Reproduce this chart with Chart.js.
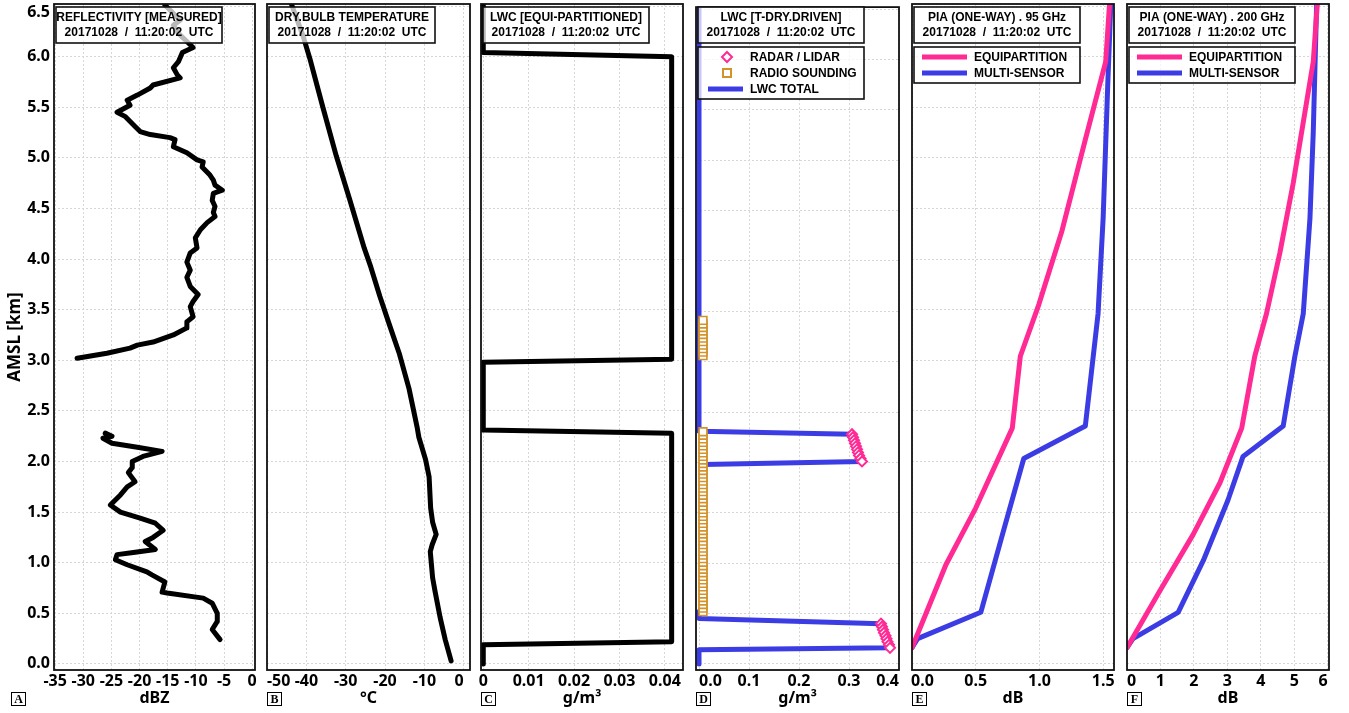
<!DOCTYPE html>
<html>
<head>
<meta charset="utf-8">
<script src="https://cdn.jsdelivr.net/npm/chart.js@4.4.0/dist/chart.umd.min.js"></script>
<style>
  html, body { margin: 0; padding: 0; background: #fff; }
  #wrap { position: relative; width: 1349px; height: 713px; overflow: hidden; }
  canvas { position: absolute; left: 0; top: 0; }
</style>
</head>
<body>
<div id="wrap">
  <canvas id="pA" width="1349" height="713"></canvas>
  <canvas id="pB" width="1349" height="713"></canvas>
  <canvas id="pC" width="1349" height="713"></canvas>
  <canvas id="pD" width="1349" height="713"></canvas>
  <canvas id="pE" width="1349" height="713"></canvas>
  <canvas id="pF" width="1349" height="713"></canvas>
</div>
<script>
// altitude axis (shared)
const yTickValues = [0, 0.5, 1, 1.5, 2, 2.5, 3, 3.5, 4, 4.5, 5, 5.5, 6, 6.5];
const yTickLabels = ['0.0','0.5','1.0','1.5','2.0','2.5','3.0','3.5','4.0','4.5','5.0','5.5','6.0','6.5'];

// A - reflectivity
const reflTicks = [-35, -30, -25, -20, -15, -10, -5, 0];
const reflTickLabels = ['-35','-30','-25','-20','-15','-10','-5','0'];
const reflAltUpper = [6.51,6.36,6.31,6.23,6.15,6.09,6.04,5.95,5.89,5.82,5.79,5.72,5.69,5.62,5.57,5.52,5.45,5.41,5.31,5.26,5.23,5.20,5.18,5.11,5.05,4.98,4.96,4.91,4.83,4.78,4.73,4.68,4.65,4.58,4.52,4.46,4.42,4.36,4.29,4.21,4.11,4.06,3.97,3.89,3.82,3.73,3.65,3.58,3.53,3.43,3.38,3.32,3.25,3.18,3.15,3.12,3.07,3.02];
const reflDbzUpper = [-15.5,-12.8,-14.0,-13.1,-11.6,-10.5,-12.4,-13.1,-14.0,-13.3,-12.8,-17.6,-18.1,-20.4,-22.2,-21.7,-24.0,-22.6,-20.8,-19.9,-18.1,-14.6,-13.7,-14.0,-11.6,-9.8,-8.7,-8.9,-7.5,-6.9,-6.6,-5.3,-6.9,-7.1,-6.6,-6.9,-6.6,-8.0,-9.2,-10.1,-9.8,-11.0,-11.6,-11.0,-11.6,-11.0,-9.6,-10.5,-11.0,-10.5,-11.6,-11.6,-14.0,-17.6,-20.4,-21.7,-25.8,-31.1];
const reflAltLower = [2.28,2.25,2.23,2.18,2.14,2.10,2.05,2.00,1.94,1.89,1.80,1.75,1.67,1.57,1.50,1.44,1.39,1.32,1.25,1.21,1.13,1.10,1.08,1.03,0.98,0.91,0.88,0.81,0.71,0.70,0.65,0.60,0.50,0.42,0.34,0.24];
const reflDbzLower = [-26.1,-24.9,-26.5,-24.9,-20.4,-16.0,-19.4,-21.3,-21.3,-22.0,-20.8,-22.2,-23.4,-25.2,-23.4,-19.9,-17.2,-15.8,-17.6,-19.0,-17.2,-21.1,-24.0,-24.3,-22.2,-18.7,-17.8,-15.5,-16.0,-15.1,-8.7,-7.1,-6.2,-6.2,-7.1,-5.7];

// B - dry bulb temperature
const tempTicks = [-50, -40, -30, -20, -10, 0];
const tempTickLabels = ['-50','-40','-30','-20','-10','0'];
const tempAlt = [6.52,6.20,5.98,5.50,5.02,4.59,4.11,3.92,3.63,3.33,3.07,2.72,2.33,2.24,2.02,1.85,1.54,1.40,1.28,1.18,1.11,0.98,0.85,0.72,0.46,0.24,0.03];
const tempC = [-43.8,-40.8,-39.1,-35.8,-32.4,-29.0,-25.3,-23.6,-21.3,-18.7,-16.4,-13.9,-11.8,-11.4,-9.7,-8.8,-8.4,-7.9,-7.0,-8.0,-8.5,-8.2,-7.9,-7.3,-6.0,-4.7,-3.2];

// C - LWC equi-partitioned
const lwcTicks = [0, 0.01, 0.02, 0.03, 0.04];
const lwcTickLabels = ['0','0.01','0.02','0.03','0.04'];
const lwcEqAlt = [0.00,0.19,0.22,2.28,2.31,2.98,3.01,6.00,6.04,6.52];
const lwcEq = [0,0,0.0415,0.0415,0,0,0.0415,0.0415,0,0];

// D - LWC T-dry driven
const lwcdTicks = [0, 0.1, 0.2, 0.3, 0.4];
const lwcdTickLabels = ['0.0','0.1','0.2','0.3','0.4'];
const radarAlt = [2.28,2.25,2.22,2.19,2.16,2.13,2.10,2.07,2.04,2.01,0.40,0.37,0.34,0.31,0.28,0.25,0.22,0.19,0.16];
const radarLwc = [0.306,0.308,0.310,0.312,0.314,0.316,0.318,0.320,0.323,0.326,0.364,0.366,0.368,0.370,0.373,0.375,0.377,0.380,0.382];
const soundAlt = [0.52,0.555,0.59,0.625,0.66,0.695,0.73,0.765,0.80,0.835,0.87,0.905,0.94,0.975,1.01,1.045,1.08,1.115,1.15,1.185,1.22,1.255,1.29,1.325,1.36,1.395,1.43,1.465,1.50,1.535,1.57,1.605,1.64,1.675,1.71,1.745,1.78,1.815,1.85,1.885,1.92,1.955,1.99,2.025,2.06,2.095,2.13,2.165,2.20,2.235,2.27,2.305,
                  3.06,3.095,3.13,3.165,3.20,3.235,3.27,3.305,3.34,3.375,3.41];
const soundLwc = [0.008,0.008,0.008,0.008,0.008,0.008,0.008,0.008,0.008,0.008,0.008,0.008,0.008,0.008,0.008,0.008,0.008,0.008,0.008,0.008,0.008,0.008,0.008,0.008,0.008,0.008,0.008,0.008,0.008,0.008,0.008,0.008,0.008,0.008,0.008,0.008,0.008,0.008,0.008,0.008,0.008,0.008,0.008,0.008,0.008,0.008,0.008,0.008,0.008,0.008,0.008,0.008,
                  0.008,0.008,0.008,0.008,0.008,0.008,0.008,0.008,0.008,0.008,0.008];
const totalAlt = [0.00,0.14,0.16,0.19,0.22,0.25,0.28,0.31,0.34,0.37,0.40,0.45,0.52,0.555,1.98,2.01,2.04,2.07,2.10,2.13,2.16,2.19,2.22,2.25,2.28,2.31,6.52];
const totalLwc = [0,0,0.382,0.380,0.377,0.375,0.373,0.370,0.368,0.366,0.364,0,0,0.008,0.008,0.326,0.323,0.320,0.318,0.316,0.314,0.312,0.310,0.308,0.306,0,0];

// E - PIA 95 GHz
const pia95Ticks = [0, 0.5, 1, 1.5];
const pia95TickLabels = ['0.0','0.5','1.0','1.5'];
const pia95EqAlt = [0.16,0.98,1.54,2.33,3.04,3.55,4.28,5.18,5.95,6.52];
const pia95Eq = [0.0,0.266,0.50,0.787,0.85,0.995,1.177,1.36,1.52,1.55];
const pia95MsAlt = [0.16,0.25,0.51,1.28,2.03,2.35,3.46,4.41,5.69,6.52];
const pia95Ms = [0.0,0.044,0.54,0.71,0.877,1.36,1.46,1.50,1.535,1.56];

// F - PIA 200 GHz
const pia200Ticks = [0, 1, 2, 3, 4, 5, 6];
const pia200TickLabels = ['0','1','2','3','4','5','6'];
const pia200EqAlt = [0.16,0.72,1.28,1.79,2.33,3.04,3.46,4.06,4.75,5.95,6.52];
const pia200Eq = [0,0.98,1.98,2.78,3.43,3.82,4.17,4.57,4.97,5.57,5.69];
const pia200MsAlt = [0.16,0.25,0.51,1.02,1.62,2.05,2.35,3.04,3.46,4.40,5.26,6.52];
const pia200Ms = [0,0.18,1.53,2.28,3.02,3.47,4.67,5.02,5.27,5.47,5.57,5.67];

const STAMP = '20171028  /  11:20:02  UTC';
const PINK = '#ff2a94', BLUE = '#3c3ce4', ORANGE = '#d4922a', GRID = '#d6d6d6';
const tickFont = { family: '"Noto Sans", sans-serif', weight: 'bold', size: 16 };
const titleFont = { family: '"Noto Sans", sans-serif', weight: 'bold', size: 16 };

function pts(xs, ys) { return xs.map((x, i) => ({ x: x, y: ys[i] })); }

function line(xs, ys, color) {
  return { data: pts(xs, ys), borderColor: color, borderWidth: 5, pointRadius: 0,
           tension: 0, borderJoinStyle: 'round', borderCapStyle: 'round', fill: false };
}

// align: 'center' or 'inner'; lead: spaces put before the first label to push it inward
function xAxis(min, max, ticks, labels, title, align, lead) {
  return {
    type: 'linear', position: 'bottom', min: min, max: max,
    afterBuildTicks: s => { s.ticks = ticks.map(v => ({ value: v })); },
    afterFit: s => { s.height = 43; s.paddingLeft = 0; s.paddingRight = 0; },
    ticks: { autoSkip: false, maxRotation: 0, padding: 2, color: '#000', font: tickFont,
             align: align || 'center',
             callback: (v, i) => (i === 0 && lead ? lead : '') + labels[i] },
    grid: { color: GRID, lineWidth: 1, drawTicks: false },
    border: { display: false, dash: [2, 2] },
    title: { display: true, text: title, color: '#000', font: titleFont, padding: { top: 0, bottom: 5 } }
  };
}

function yAxis(showLabels) {
  const last = yTickValues.length - 1;
  return {
    type: 'linear', min: -0.06, max: 6.52,
    afterBuildTicks: s => { s.ticks = yTickValues.map(v => ({ value: v })); },
    afterFit: s => { s.width = showLabels ? 54 : 0; s.paddingTop = 0; s.paddingBottom = 0; },
    ticks: { display: showLabels, padding: 4, color: '#000',
             // top label sits a little lower so it is not cut by the page edge
             font: c => (c.index === last ? Object.assign({}, tickFont, { lineHeight: 0.75 }) : tickFont),
             callback: (v, i) => (i === last ? ['', yTickLabels[i]] : yTickLabels[i]) },
    grid: { color: GRID, lineWidth: 1, drawTicks: false },
    border: { display: false, dash: [2, 2] },
    title: { display: showLabels, text: 'AMSL [km]', color: '#000',
             font: { family: '"Noto Sans", sans-serif', weight: 'bold', size: 17 },
             padding: { top: 5, bottom: 0 } }
  };
}

function box(ctx, x, y, w, h) {
  ctx.fillStyle = 'rgba(255,255,255,0.72)';
  ctx.fillRect(x, y, w, h);
  ctx.strokeStyle = '#111';
  ctx.lineWidth = 1.6;
  ctx.strokeRect(x, y, w, h);
}

function marker(ctx, type, x, y) {
  ctx.lineWidth = 2;
  ctx.fillStyle = '#fff';
  ctx.beginPath();
  if (type === 'diamond') {
    ctx.strokeStyle = PINK;
    ctx.moveTo(x, y - 5); ctx.lineTo(x + 5, y); ctx.lineTo(x, y + 5); ctx.lineTo(x - 5, y); ctx.closePath();
  } else {
    ctx.strokeStyle = ORANGE;
    ctx.rect(x - 4, y - 4, 8, 8);
  }
  ctx.fill(); ctx.stroke();
}

// frame, title box, legend box and panel letter
function deco(d) {
  return {
    id: 'deco',
    afterDraw(chart) {
      const ctx = chart.ctx, a = chart.chartArea;
      ctx.save();
      ctx.strokeStyle = '#111';
      ctx.lineWidth = 1.8;
      ctx.strokeRect(a.left, a.top, a.right - a.left, a.bottom - a.top);

      const bx = a.left + 2, bw = 166;
      box(ctx, bx, 7, bw, 36);
      ctx.fillStyle = '#000';
      ctx.font = 'bold 12px "Liberation Sans", Arial, sans-serif';
      ctx.textAlign = 'center';
      ctx.textBaseline = 'middle';
      ctx.fillText(d.title, bx + bw / 2, 18);
      ctx.fillText(STAMP, bx + bw / 2, 33);

      if (d.legend) {
        const n = d.legend.length;
        box(ctx, bx, 47, bw, n * 16 + 4);
        d.legend.forEach((it, i) => {
          const y = 57 + i * 16;
          if (it.type === 'line') {
            ctx.strokeStyle = it.color;
            ctx.lineWidth = 5;
            ctx.beginPath();
            ctx.moveTo(a.left + d.lx0, y); ctx.lineTo(a.left + d.lx1, y);
            ctx.stroke();
          } else {
            marker(ctx, it.type, a.left + d.mx, y);
          }
          ctx.fillStyle = '#000';
          ctx.font = 'bold 12px "Liberation Sans", Arial, sans-serif';
          ctx.textAlign = 'left';
          ctx.fillText(it.text, a.left + d.tx, y + 0.5);
        });
      }

      const lx = d.letterX !== undefined ? d.letterX : a.left;
      ctx.fillStyle = '#fff';
      ctx.fillRect(lx, 692, 14, 13);
      ctx.strokeStyle = '#000';
      ctx.lineWidth = 1;
      ctx.strokeRect(lx + 0.5, 692.5, 14, 13);
      ctx.fillStyle = '#000';
      ctx.font = 'bold 12px "Liberation Serif", "DejaVu Serif", serif';
      ctx.textAlign = 'center';
      ctx.fillText(d.letter, lx + 7.5, 699.5);
      ctx.restore();
    }
  };
}

function panel(id, left, right, showY, datasets, xCfg, d) {
  return new Chart(document.getElementById(id), {
    type: 'line',
    data: { datasets: datasets },
    options: {
      responsive: false, animation: false, devicePixelRatio: 1,
      layout: { padding: { left: showY ? 0 : left, right: 1349 - right, top: 4, bottom: 0 } },
      plugins: { legend: { display: false }, tooltip: { enabled: false } },
      scales: { x: xCfg, y: yAxis(showY) }
    },
    plugins: [deco(d)]
  });
}

panel('pA', 54, 255, true,
  [line(reflDbzUpper, reflAltUpper, '#000'), line(reflDbzLower, reflAltLower, '#000')],
  xAxis(-35.2, 0.5, reflTicks, reflTickLabels, 'dBZ'),
  { title: 'REFLECTIVITY [MEASURED]', letter: 'A', letterX: 11 });

panel('pB', 267, 470, false,
  [line(tempC, tempAlt, '#000')],
  xAxis(-50, 1.6, tempTicks, tempTickLabels, '°C', 'inner'),
  { title: 'DRY.BULB TEMPERATURE', letter: 'B' });

panel('pC', 481, 683, false,
  [line(lwcEq, lwcEqAlt, '#000')],
  xAxis(-0.0005, 0.044, lwcTicks, lwcTickLabels, 'g/m³'),
  { title: 'LWC [EQUI-PARTITIONED]', letter: 'C' });

panel('pD', 696, 899, false,
  [
    { data: pts(radarLwc, radarAlt), showLine: false, pointStyle: 'rectRot', pointRadius: 5,
      pointBorderWidth: 2, pointBorderColor: PINK, pointBackgroundColor: '#fff', borderColor: PINK },
    { data: pts(soundLwc, soundAlt), showLine: false, pointStyle: 'rect', pointRadius: 5.5,
      pointBorderWidth: 1.6, pointBorderColor: ORANGE, pointBackgroundColor: '#fff', borderColor: ORANGE },
    line(totalLwc, totalAlt, BLUE)
  ],
  xAxis(-0.006, 0.4, lwcdTicks, lwcdTickLabels, 'g/m³', 'inner'),
  { title: 'LWC [T-DRY.DRIVEN]', letter: 'D', lx0: 12, lx1: 47, mx: 31, tx: 54,
    legend: [ { type: 'diamond', text: 'RADAR / LIDAR' },
              { type: 'square', text: 'RADIO SOUNDING' },
              { type: 'line', color: BLUE, text: 'LWC TOTAL' } ] });

panel('pE', 912, 1114, false,
  [line(pia95Eq, pia95EqAlt, PINK), line(pia95Ms, pia95MsAlt, BLUE)],
  xAxis(0, 1.585, pia95Ticks, pia95TickLabels, 'dB', 'center', '     '),
  { title: 'PIA (ONE-WAY) . 95 GHz', letter: 'E', lx0: 10, lx1: 55, tx: 62,
    legend: [ { type: 'line', color: PINK, text: 'EQUIPARTITION' },
              { type: 'line', color: BLUE, text: 'MULTI-SENSOR' } ] });

panel('pF', 1127, 1329, false,
  [line(pia200Eq, pia200EqAlt, PINK), line(pia200Ms, pia200MsAlt, BLUE)],
  xAxis(0, 6.04, pia200Ticks, pia200TickLabels, 'dB', 'inner'),
  { title: 'PIA (ONE-WAY) . 200 GHz', letter: 'F', lx0: 10, lx1: 55, tx: 62,
    legend: [ { type: 'line', color: PINK, text: 'EQUIPARTITION' },
              { type: 'line', color: BLUE, text: 'MULTI-SENSOR' } ] });
</script>
</body>
</html>
